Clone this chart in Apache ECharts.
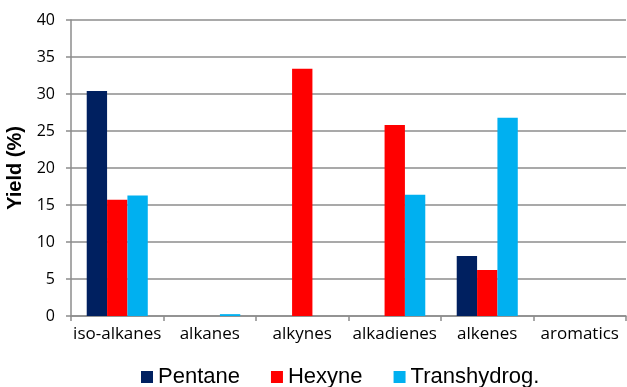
<!DOCTYPE html>
<html>
<head>
<meta charset="utf-8">
<script src="https://cdn.jsdelivr.net/npm/echarts@6/dist/echarts.min.js"></script>
<style>
  html, body { margin: 0; padding: 0; background: #fff; }
  #chart { width: 627px; height: 387px; }
</style>
</head>
<body>
<div id="chart"></div>
<script>
// Product yields by compound class
const categories = ['iso-alkanes', 'alkanes', 'alkynes', 'alkadienes', 'alkenes', 'aromatics'];
const pentane = [30.4, 0, 0, 0, 8.1, 0];
const hexyne = [15.7, 0, 33.4, 25.8, 6.2, 0];
const transhydrog = [16.3, 0.25, 0, 16.4, 26.8, 0];
const seriesNames = ['Pentane', 'Hexyne', 'Transhydrog.'];
const seriesColors = ['#002060', '#ff0000', '#00b0f0'];
const yTicks = { min: 0, max: 40, interval: 5 };

const chart = echarts.init(document.getElementById('chart'));
const values = [pentane, hexyne, transhydrog];

chart.setOption({
  animation: false,
  grid: { left: 71, right: 1, top: 20, bottom: 71, containLabel: false, outerBoundsMode: 'none' },
  legend: {
    bottom: -6,
    left: 136,
    itemWidth: 12,
    itemHeight: 12,
    itemGap: 31,
    icon: 'rect',
    textStyle: { fontFamily: 'Liberation Sans', fontSize: 22, color: '#000' },
    data: seriesNames
  },
  xAxis: {
    type: 'category',
    data: categories,
    axisLine: { lineStyle: { color: '#8c8c8c', width: 1.5 } },
    axisTick: { show: true, length: 5, alignWithLabel: false, lineStyle: { color: '#8c8c8c', width: 1.5 } },
    axisLabel: { fontFamily: 'Open Sans', fontSize: 17, color: '#000', margin: 10, interval: 0 }
  },
  yAxis: {
    type: 'value',
    min: yTicks.min,
    max: yTicks.max,
    interval: yTicks.interval,
    name: 'Yield (%)',
    nameLocation: 'middle',
    nameGap: 44,
    nameTextStyle: { fontFamily: 'Liberation Sans', fontSize: 20, fontWeight: 'bold', color: '#000' },
    axisLine: { show: true, lineStyle: { color: '#8c8c8c', width: 1.5 } },
    axisTick: { show: true, length: 5, lineStyle: { color: '#8c8c8c', width: 1.5 } },
    axisLabel: { fontFamily: 'Open Sans', fontSize: 16, color: '#000', margin: 16 },
    splitLine: { lineStyle: { color: '#8c8c8c', width: 1.5 } }
  },
  series: seriesNames.map((name, i) => ({
    name,
    type: 'bar',
    data: values[i],
    barGap: '0%',
    barCategoryGap: '34%',
    itemStyle: { color: seriesColors[i] }
  }))
});
</script>
</body>
</html>
